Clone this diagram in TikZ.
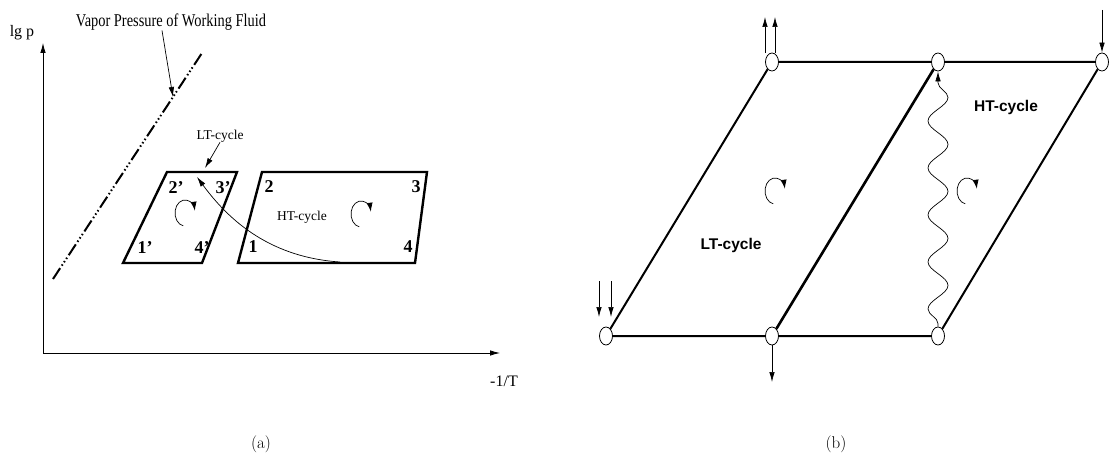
\documentclass[tikz,border=0pt]{standalone}
\usepackage{fontspec}
\newfontfamily\timesf{Liberation Serif}
\newfontfamily\helvf{Liberation Sans}
\usetikzlibrary{shapes.geometric,positioning,calc,arrows.meta,decorations.pathmorphing}
\tikzset{ax/.style={line width=0.8pt,-{Latex[length=10pt,width=5.5pt]}},
 lbl/.style={font=\timesf\fontsize{13.5}{16}\selectfont,inner sep=0pt},
 axlbl/.style={font=\timesf\fontsize{16}{19}\selectfont,inner sep=0pt},
 cornerlbl/.style={font=\timesf\bfseries\fontsize{18}{20}\selectfont,inner sep=0pt},
 cyc/.style={line width=2.4pt,line join=miter},
 vap/.style={line width=2pt,dash pattern=on 13pt off 3pt on 1.5pt off 2.5pt on 1.5pt off 2.5pt on 1.5pt off 3pt},
 ptr/.style={line width=0.7pt,-{Latex[length=10pt,width=5.5pt]}},
 spin/.style={line width=0.7pt,-{Latex[length=9pt,width=6pt]}},
 junc/.style={draw,ellipse,fill=white,minimum width=13pt,minimum height=18pt,inner sep=0pt,line width=0.8pt},
 link/.style={line width=2pt},
 flow/.style={line width=0.7pt,-{Latex[length=10pt,width=5.5pt]}},
 wave/.style={line width=0.7pt,-{Latex[length=10pt,width=5.5pt]},decorate,
  decoration={snake,amplitude=10pt,segment length=47pt,pre length=3pt,post length=10pt}},
 sanslbl/.style={font=\helvf\bfseries\fontsize{15.5}{18}\selectfont,inner sep=0pt},
 figcap/.style={font=\fontsize{17}{20}\selectfont,inner sep=0pt}}

\begin{document}
\begin{tikzpicture}[x=1pt,y=-1pt]
\useasboundingbox (0,0) rectangle (1109,460);
% (a) lg p over -1/T
\coordinate (O) at (43,353);\coordinate (ytop) at (43,43);\coordinate (xend) at (500,353);
\draw[ax] (O)--(ytop);\draw[ax] (O)--(xend);
\node[axlbl] (lgp) at (22,33) {lg p};
\node[axlbl] (invT) at (504,381) {-1/T};
\coordinate (v1) at (53,279);\coordinate (v2) at (202,53);\coordinate (vhit) at (173,97);
\draw[vap] (v1)--(v2);
\node[lbl] (vtext) at (171,22) {\scalebox{0.8}[1]{\fontsize{18}{20}\selectfont Vapor Pressure of Working Fluid}};
\draw[ptr] ([xshift=-9pt]vtext.south)--(vhit);
% LT and HT cycle
\coordinate (lt1) at (123,263);\coordinate (lt2) at (167,172);
\coordinate (lt3) at (237,172);\coordinate (lt4) at (202,263);
\coordinate (ht1) at (238,263);\coordinate (ht2) at (262,172);
\coordinate (ht3) at (427,172);\coordinate (ht4) at (415,263);
\draw[cyc] (lt1)--(lt2)--(lt3)--(lt4)--cycle;
\draw[cyc] (ht1)--(ht2)--(ht3)--(ht4)--cycle;
\node[cornerlbl] (p2a) at (176,188) {2’};\node[cornerlbl] (p3a) at (223,188) {3’};
\node[cornerlbl] (p1a) at (145,248) {1’};\node[cornerlbl] (p4a) at (202,248) {4’};
\node[cornerlbl] (p2) at (269,187) {2};\node[cornerlbl] (p3) at (416,187) {3};
\node[cornerlbl] (p1) at (253,247) {1};\node[cornerlbl] (p4) at (408,247) {4};
\node[lbl] (htl) at (302,217) {HT-cycle};
\node[lbl] (ltl) at (220,136) {LT-cycle};
\coordinate (lthit) at (205,168);
\draw[ptr] (ltl.south)--(lthit);
\coordinate (lts) at (185,213);\coordinate (hts) at (361,214);
\draw[spin] ($(lts)+(100:10 and 13)$) arc[start angle=100,end angle=350,x radius=10,y radius=13];
\draw[spin] ($(hts)+(100:10 and 13)$) arc[start angle=100,end angle=350,x radius=10,y radius=13];
\coordinate (cs) at (340,262);\coordinate (ce) at (197,177);
\draw[ptr] (cs) .. controls (265,257) and (225,215) .. (ce);
\node[figcap] (capa) at (261,444) {(a)};
% (b) coupled cycles
\draw[spin] ($(775,191)+(100:10 and 13)$) arc[start angle=100,end angle=350,x radius=10,y radius=13];
\draw[spin] ($(967,191)+(100:10 and 13)$) arc[start angle=100,end angle=350,x radius=10,y radius=13];
\node[junc] (A) at (606,336) {};\node[junc] (B) at (772,336) {};\node[junc] (C) at (938,336) {};
\node[junc] (D) at (772,62) {};\node[junc] (E) at (938,62) {};\node[junc] (F) at (1102,62) {};
\draw[link] (A)--(B) (B)--(C) (D)--(E) (E)--(F) (A)--(D) (C)--(F);
\draw[link,line width=2.6pt] (B)--(E);
\draw[wave] (C)--(E);
\node[sanslbl] (ltb) at (731,245) {LT-cycle};
\node[sanslbl] (htb) at (1006,107) {HT-cycle};
\coordinate (d1) at (765,17);\coordinate (d2) at (775,17);
\draw[flow] (765,53)--(d1);\draw[flow] (775,53)--(d2);
\coordinate (fin) at (1102,10);\draw[flow] (fin)--(F);
\coordinate (a1) at (599,281);\coordinate (a1e) at (599,317);
\coordinate (a2) at (611,281);\coordinate (a2e) at (611,317);
\draw[flow] (a1)--(a1e);\draw[flow] (a2)--(a2e);
\coordinate (bout) at (772,382);\draw[flow] (B)--(bout);
\node[figcap] (capb) at (836,444) {(b)};
\end{tikzpicture}
\end{document}
